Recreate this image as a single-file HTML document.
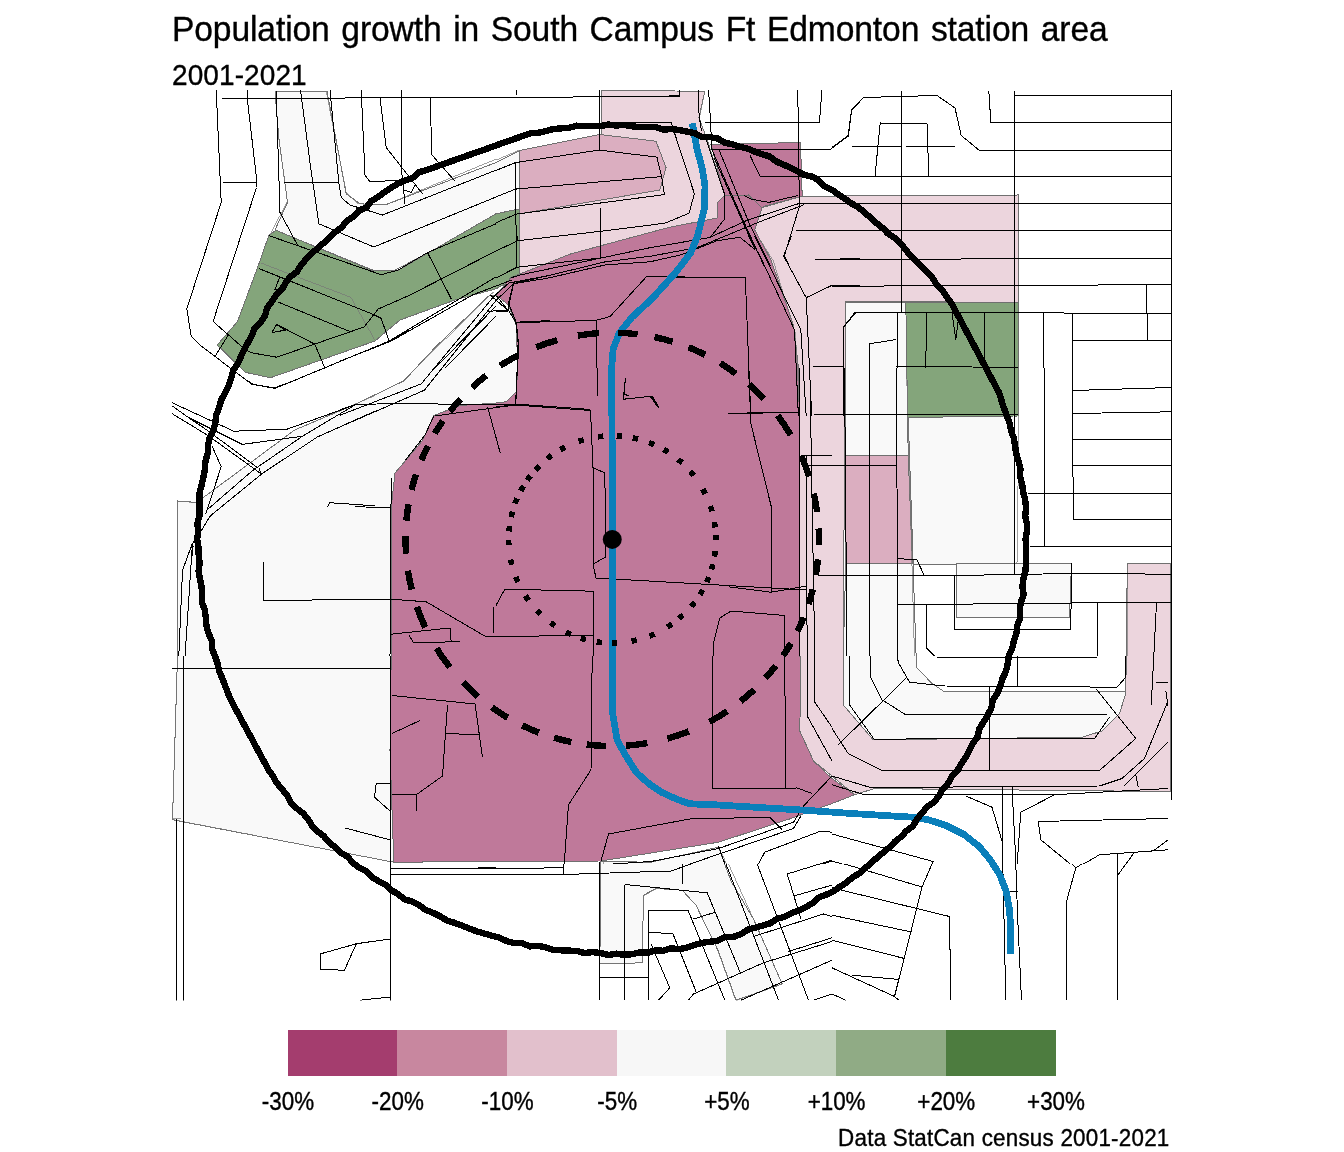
<!DOCTYPE html>
<html><head><meta charset="utf-8"><title>Population growth in South Campus Ft Edmonton station area</title>
<style>
html,body{margin:0;padding:0;background:#fff;}
svg{display:block}
text{font-family:"Liberation Sans",Arial,sans-serif;fill:#000}
</style></head><body>
<svg width="1344" height="1152" viewBox="0 0 1344 1152">
<rect width="1344" height="1152" fill="#fff"/>
<defs><clipPath id="panel"><rect x="172" y="90" width="1000" height="910.5"/></clipPath></defs>
<g clip-path="url(#panel)">

<g shape-rendering="crispEdges" stroke="#707070" stroke-width="1">
<polygon fill="#f9f9f9" points="177.5,501.0 197.0,502.5 204.0,497.0 294.7,430.0 355.6,404.2 404.0,380.8 435.3,347.2 490.0,294.8 520.0,300.0 520.0,420.0 400.0,480.0 395.0,862.0 390.0,861.5 172.5,819.8 177.5,656.0"/>
<polygon fill="#f9f9f9" points="275.0,91.2 327.0,91.2 346.2,193.8 360.0,203.8 385.0,205.0 496.0,162.5 519.8,150.5 519.8,208.8 496.0,213.8 429.0,252.5 395.0,270.0 372.5,270.0 275.0,230.0 287.5,202.5 278.8,137.5"/>
<polygon fill="#ecd5dd" points="601.0,90.5 704.8,91.2 699.0,117.5 708.5,143.8 724.8,195.5 717.2,202.5 717.2,218.0 668.5,227.5 571.0,253.8 519.8,276.2 519.8,212.0 601.0,134.5"/>
<polygon fill="#dbaec0" points="519.8,150.5 599.8,134.5 656.0,141.2 666.0,167.5 659.8,190.0 519.8,213.8"/>
<polygon fill="#84a57b" points="275.8,230.2 371.0,270.0 397.0,270.8 429.0,252.5 496.0,213.8 519.8,208.8 519.8,276.2 496.0,288.8 455.0,300.0 400.0,320.0 375.0,341.0 270.3,377.8 245.3,372.3 217.2,345.0 237.5,321.6 257.8,266.9 268.8,235.6"/>
<polygon fill="#ecd5dd" points="762.2,207.5 802.2,196.2 1018.2,195.0 1018.2,302.5 845.8,301.2 844.5,455.0 843.2,656.0 843.2,704.8 873.2,739.8 1082.0,737.2 1102.0,731.0 1119.5,713.5 1125.8,693.5 1127.3,563.8 1170.6,563.8 1170.6,791.6 874.5,788.5 854.5,794.8 832.0,776.0 813.5,761.0 799.8,731.0 799.8,455.0 793.5,325.0 771.0,260.0 754.8,230.0"/>
<polygon fill="#84a57b" points="905.8,302.5 1018.2,302.5 1018.2,416.0 907.0,417.5"/>
<polygon fill="#f9f9f9" points="908.2,417.5 1014.5,416.0 1014.5,564.0 913.2,564.0"/>
<polygon fill="#f9f9f9" points="846.0,302.5 905.8,302.5 908.2,455.5 845.8,455.5"/>
<polygon fill="#dbaec0" points="845.8,455.5 908.2,455.5 912.5,563.0 845.8,563.0"/>
<polygon fill="#f9f9f9" points="845.8,563.0 913.0,563.0 916.5,667.2 932.0,683.5 943.2,691.0 1125.8,691.0 1125.8,693.5 1119.5,713.5 1102.0,731.0 1082.0,737.2 873.2,739.8 843.2,704.8 843.2,656.0"/>
<polygon fill="#f9f9f9" points="956.5,564.0 1071.5,563.5 1069.5,617.0 956.5,617.0"/>
<polygon fill="#f9f9f9" points="601.0,861.5 651.0,862.2 718.5,847.2 731.0,881.0 753.5,919.0 782.2,984.0 736.0,1000.2 718.5,951.5 696.0,905.2 682.2,890.2 656.0,888.5 643.5,895.2 642.2,962.8 599.8,964.0"/>
<polygon fill="#bf799a" points="496.0,295.0 511.0,277.5 571.0,253.8 668.5,227.5 717.2,218.0 717.2,202.5 724.8,195.5 748.5,193.8 762.2,207.5 754.8,230.0 771.0,260.0 793.5,325.0 798.5,368.0 799.8,455.5 799.8,656.0 801.0,656.0 799.8,731.0 813.5,761.0 832.0,778.5 854.5,794.8 832.0,803.5 791.0,818.5 718.5,842.2 601.0,861.0 496.0,861.5 393.8,862.2 390.0,751.0 391.2,656.0 391.2,508.0 395.0,473.0 422.5,440.5 433.8,415.5 460.0,405.5 496.0,403.0 506.0,401.8 516.0,391.8 518.0,368.0 516.0,325.0 508.5,305.0"/>
<polygon fill="#bf799a" points="711.0,144.5 800.5,142.5 802.2,196.2 764.0,206.3 762.2,208.0 748.5,195.0 724.8,196.0"/>
</g>
<g fill="none" stroke="#777" stroke-width="0.7" shape-rendering="crispEdges">
<polyline points="260.9,263.0 350.8,297.3 375.0,340.3"/>
<polyline points="275.0,91.2 326.2,91.2 346.2,192.5 357.5,203.8 385.0,205.0 496.0,159.2"/>
<polyline points="275.0,91.2 278.8,137.5 287.5,201.2 269.2,236.2"/>
<polyline points="416.2,368.0 492.5,292.5"/>
<polyline points="906.5,368.0 914.5,656.0"/>
<polyline points="1018.2,368.0 1018.2,485.5"/>
<polyline points="1017.5,485.5 1017.5,561.8 1014.5,563.0"/>
<polyline points="1127.5,564.8 1127.5,656.0"/>
<polyline points="204.1,496.9 294.7,430.0 375.0,395.6"/>
<polyline points="355.6,404.2 404.1,380.8 435.3,347.2 490.0,294.8 493.9,292.5"/>
<polyline points="196.2,502.7 177.5,501.1 177.5,560.0"/>
<polyline points="177.5,508.0 177.5,656.0"/>
<polyline points="177.5,656.0 172.5,818.5 180.5,818.5"/>
<polyline points="172.5,819.8 390.0,861.5"/>
<polyline points="603.5,861.5 603.4,864.0"/>
<polyline points="722.2,853.5 727.0,864.0"/>
<polyline points="916.5,656.0 916.5,667.2 932.0,683.5 943.2,691.0 1125.8,691.0"/>
<polyline points="601.0,864.0 599.8,964.0 642.2,962.8 643.5,895.2 656.0,888.5 682.2,890.2 696.0,905.2 718.5,951.5 736.0,1000.2"/>
<polyline points="728.5,864.0 753.5,919.0 782.2,984.0 737.2,1000.2"/>
<polyline points="704.6,92.2 699.1,119.6 702.2,126.6"/>
<polyline points="496.0,160.2 519.4,150.1"/>
<polyline points="757.8,236.0 773.4,261.0 795.3,332.9 800.0,416.0"/>
</g>
<g fill="none" stroke="#000" stroke-width="1" shape-rendering="crispEdges">
<polyline points="222.0,98.2 345.0,98.2 346.2,97.5 496.0,97.5"/>
<polyline points="216.2,90.0 221.2,202.5 186.8,308.8 191.2,336.2 200.0,345.0"/>
<polyline points="200.0,345.0 232.8,370.0 239.1,374.7 251.6,384.1 275.0,388.4 325.0,367.7 389.1,341.1 410.0,330.2"/>
<polyline points="222.5,182.0 257.0,182.0"/>
<polyline points="247.5,90.0 248.0,105.0 257.0,182.5 256.5,187.5 213.2,321.2 222.5,330.0"/>
<polyline points="213.3,321.6 245.3,349.7 251.6,352.8 276.6,357.2 364.1,327.0 378.1,309.1 410.0,295.0"/>
<polyline points="410.0,295.0 496.0,251.0"/>
<polyline points="214.8,356.7 228.9,334.1"/>
<polyline points="276.2,91.2 280.0,212.5 297.5,245.0"/>
<polyline points="300.5,90.0 310.0,162.5 318.8,223.8 373.8,247.0 496.0,197.0"/>
<polyline points="330.0,90.0 338.8,182.5 341.2,197.5 350.0,205.0 382.5,215.0 496.0,170.2"/>
<polyline points="361.2,90.0 365.0,175.0 370.0,182.0 400.0,180.0 412.5,176.2"/>
<polyline points="380.0,97.5 386.2,147.5 422.5,193.8"/>
<polyline points="401.2,90.0 402.0,175.0 405.0,203.8"/>
<polyline points="430.0,97.5 432.0,155.0 455.0,181.2"/>
<polyline points="403.8,190.0 411.2,192.5 415.0,185.0"/>
<polyline points="284.2,183.0 338.0,182.5"/>
<polyline points="268.8,235.6 381.2,274.7 398.4,270.0 427.5,252.5 496.0,223.8"/>
<polyline points="427.5,252.5 451.2,298.8"/>
<polyline points="258.6,268.4 373.4,314.5 381.2,318.4 389.1,341.1"/>
<polyline points="279.7,277.0 275.0,289.5 284.4,288.8"/>
<polyline points="278.1,302.0 348.4,330.9"/>
<polyline points="271.9,332.5 276.6,324.4 285.2,330.2 271.9,332.5"/>
<polyline points="276.6,324.4 314.8,344.2 325.0,368.4"/>
<polyline points="496.0,277.0 388.8,341.2"/>
<polyline points="435.0,368.0 496.0,306.2"/>
<polyline points="445.0,368.0 496.0,316.2"/>
<polyline points="901.5,90.5 901.5,312.5"/>
<polyline points="1014.5,90.5 1014.5,368.0"/>
<polyline points="988.8,90.5 990.8,122.0 1172.0,122.0"/>
<polyline points="1014.5,95.5 1172.0,95.5"/>
<polyline points="832.0,147.5 848.2,135.5 851.5,110.0 863.2,97.5 937.0,95.5 955.0,108.0 961.2,135.5 979.5,150.5 1172.0,150.5"/>
<polyline points="875.0,176.2 880.2,123.0 927.0,123.8 928.8,176.2"/>
<polyline points="852.0,146.2 901.5,146.2"/>
<polyline points="906.2,146.2 954.5,146.2"/>
<polyline points="832.0,176.2 1172.0,176.2"/>
<polyline points="832.0,203.8 1172.0,203.0"/>
<polyline points="832.0,230.5 1172.0,230.5"/>
<polyline points="832.0,259.5 1172.0,258.2"/>
<polyline points="832.0,286.2 1023.2,285.5 1172.0,284.5"/>
<polyline points="855.8,312.5 1058.2,312.5 1072.0,313.8 1172.0,313.8"/>
<polyline points="1146.5,285.0 1147.5,340.0"/>
<polyline points="1072.0,340.0 1172.0,340.0"/>
<polyline points="1072.5,312.5 1072.5,368.0"/>
<polyline points="1043.2,312.5 1043.2,368.0"/>
<polyline points="926.5,312.5 925.8,368.0"/>
<polyline points="984.5,312.5 985.0,368.0"/>
<polyline points="952.0,312.5 955.8,340.0 958.2,320.0"/>
<polyline points="897.0,312.5 897.0,368.0"/>
<polyline points="855.8,312.5 843.2,327.5 844.0,368.0"/>
<polyline points="869.5,368.0 869.5,343.8 896.5,339.5"/>
<polyline points="896.5,366.2 1018.2,367.5"/>
<polyline points="844.5,368.0 847.0,656.0"/>
<polyline points="869.5,368.0 870.0,656.0"/>
<polyline points="896.5,368.0 897.5,603.0 897.5,656.0"/>
<polyline points="1014.5,368.0 1014.5,574.2"/>
<polyline points="1044.0,368.0 1044.5,546.0"/>
<polyline points="1072.5,368.0 1073.2,519.2 1172.0,519.2"/>
<polyline points="832.0,414.2 1018.2,414.2"/>
<polyline points="1072.5,390.5 1172.0,387.5"/>
<polyline points="1072.5,413.5 1172.0,411.8"/>
<polyline points="1072.5,439.8 1172.0,439.8"/>
<polyline points="1072.5,465.5 1172.0,465.0"/>
<polyline points="1028.2,493.5 1172.0,493.0"/>
<polyline points="1029.5,546.2 1172.0,546.2"/>
<polyline points="832.0,465.0 897.0,465.0"/>
<polyline points="832.0,575.5 954.5,575.5 1072.0,573.5 1172.0,574.2"/>
<polyline points="897.5,558.5 917.0,560.0 924.0,575.0"/>
<polyline points="897.5,604.2 954.5,604.2 1070.8,603.0 1172.0,602.2"/>
<polyline points="954.5,575.5 954.5,629.2 1070.8,629.2 1071.5,563.5"/>
<polyline points="926.5,604.2 926.5,648.0 934.5,656.0"/>
<polyline points="1097.5,603.0 1097.5,656.0"/>
<polyline points="1156.5,603.0 1153.8,656.0"/>
<polyline points="597.2,368.0 597.2,395.5"/>
<polyline points="625.5,378.0 623.5,399.2 652.2,396.2 659.0,407.5"/>
<polyline points="496.0,406.8 514.8,405.0 590.5,410.5 593.0,468.0 593.0,564.2 596.0,578.0 806.0,590.0"/>
<polyline points="728.5,586.8 771.0,592.2 806.0,586.2"/>
<polyline points="593.0,467.5 604.8,473.0 606.0,556.8 593.0,564.2"/>
<polyline points="496.0,436.8 499.8,451.8"/>
<polyline points="748.5,368.0 751.0,424.2 771.0,505.5 771.0,591.8"/>
<polyline points="728.5,413.5 798.5,412.5"/>
<polyline points="496.0,605.5 504.8,589.2 593.5,591.2 593.5,656.0"/>
<polyline points="496.0,636.8 593.5,635.0"/>
<polyline points="713.5,656.0 713.5,643.0 719.8,618.0 731.0,611.0 784.8,615.5 784.8,656.0"/>
<polyline points="799.0,368.0 800.0,656.0"/>
<polyline points="806.0,455.5 807.2,656.0"/>
<polyline points="809.8,368.0 814.8,656.0"/>
<polyline points="813.5,414.2 832.0,414.2"/>
<polyline points="801.0,455.5 832.0,455.5"/>
<polyline points="806.0,465.0 832.0,465.0"/>
<polyline points="818.5,575.5 832.0,575.5"/>
<polyline points="246.2,380.0 254.1,384.7 274.4,387.8 296.2,380.0"/>
<polyline points="172.0,402.7 233.8,431.2 286.9,429.2 354.8,405.0 375.0,404.2"/>
<polyline points="340.0,409.7 355.6,404.5 402.5,403.4 449.4,404.2 515.8,404.5 550.0,406.6"/>
<polyline points="172.0,405.8 188.4,417.5 242.3,444.4 302.5,436.2"/>
<polyline points="172.0,413.6 208.0,435.5 261.1,473.8 258.8,467.5"/>
<polyline points="188.4,417.5 208.0,430.8 257.2,467.5"/>
<polyline points="206.4,510.5 252.5,470.6 302.5,436.2 354.8,405.0"/>
<polyline points="340.0,415.2 421.2,383.9 493.9,296.4 508.8,283.1 550.0,275.3"/>
<polyline points="201.7,530.0 210.3,515.9 261.9,473.8 317.3,437.0 375.0,411.2"/>
<polyline points="340.0,426.9 424.4,390.2 496.2,300.3 513.4,283.9 535.3,280.0"/>
<polyline points="211.9,445.6 221.2,466.7 205.6,514.4"/>
<polyline points="327.5,507.3 329.8,502.7 375.0,505.8"/>
<polyline points="355.0,506.8 391.2,507.5"/>
<polyline points="186.1,560.0 193.9,540.9 201.7,530.0"/>
<polyline points="191.6,560.0 193.1,545.6"/>
<polyline points="192.5,543.0 182.5,570.5 178.8,656.0"/>
<polyline points="192.5,543.0 185.0,656.0"/>
<polyline points="340.0,361.2 391.6,340.9 472.8,294.8 511.9,280.0"/>
<polyline points="515.8,404.5 518.1,342.5 515.8,322.2 508.0,309.7 513.4,283.9"/>
<polyline points="490.0,294.8 508.0,310.5 486.9,311.2"/>
<polyline points="516.6,322.2 550.0,320.6"/>
<polyline points="487.7,407.3 500.2,452.7"/>
<polyline points="435.3,415.9 515.0,405.0"/>
<polyline points="405.6,460.0 425.2,434.7 433.8,415.9"/>
<polyline points="263.8,561.8 263.8,600.5 391.2,599.2 426.2,601.8 485.0,636.2 496.0,636.2"/>
<polyline points="391.2,634.2 450.0,628.0 451.2,641.8 413.8,643.0 408.8,635.0"/>
<polyline points="451.2,641.8 460.0,641.2"/>
<polyline points="493.8,606.8 493.8,633.0"/>
<polyline points="391.2,478.0 390.0,656.0"/>
<polyline points="172.0,668.0 391.2,668.0"/>
<polyline points="183.8,656.0 183.8,1006.0"/>
<polyline points="176.2,818.5 176.2,1006.0"/>
<polyline points="390.0,656.0 390.0,1006.0"/>
<polyline points="391.2,868.5 496.0,868.0"/>
<polyline points="391.2,874.8 496.0,874.8"/>
<polyline points="355.0,944.0 390.0,939.0"/>
<polyline points="392.0,695.5 475.0,704.0 482.5,757.2"/>
<polyline points="447.5,704.8 442.5,776.0 416.2,794.8 392.0,794.0"/>
<polyline points="416.2,794.8 416.2,810.5"/>
<polyline points="445.0,733.5 480.0,734.8"/>
<polyline points="392.0,733.5 420.0,720.5"/>
<polyline points="390.0,783.5 376.2,783.5 374.5,797.2 390.0,811.0"/>
<polyline points="345.0,828.0 390.0,839.8"/>
<polyline points="592.2,656.0 591.0,769.8 568.5,804.8 564.2,864.0"/>
<polyline points="713.0,656.0 712.2,789.0 797.2,788.0 812.2,793.5"/>
<polyline points="784.8,656.0 785.5,788.0"/>
<polyline points="601.0,861.0 608.5,834.0 689.8,819.0 769.8,817.2 782.2,829.8"/>
<polyline points="613.0,864.0 651.0,861.5 718.5,848.5 793.5,822.2 803.5,806.0 832.0,776.0"/>
<polyline points="690.0,864.0 793.5,828.5 801.0,816.0"/>
<polyline points="599.8,861.5 599.8,864.0"/>
<polyline points="718.5,846.0 724.9,864.0"/>
<polyline points="764.8,852.2 821.0,831.0 832.0,832.2"/>
<polyline points="764.8,852.2 758.3,864.0"/>
<polyline points="822.2,864.0 832.0,861.0"/>
<polyline points="807.2,656.0 807.2,716.0 832.0,761.0"/>
<polyline points="814.8,656.0 814.8,702.2 832.0,727.2"/>
<polyline points="832.0,728.5 848.2,753.5 883.2,771.0 1099.5,770.5 1135.8,738.5 1095.8,688.5"/>
<polyline points="849.0,656.0 849.5,704.8 874.5,739.8 925.8,738.5 1094.5,738.5 1109.5,717.2"/>
<polyline points="870.8,656.0 870.8,677.2 882.0,699.8 905.8,714.8 1107.0,714.8"/>
<polyline points="897.5,656.0 898.2,662.2 909.5,682.2 944.5,686.0 1117.0,687.2 1125.8,677.2 1125.8,656.0"/>
<polyline points="937.0,657.2 1097.0,657.2"/>
<polyline points="1017.0,656.0 1017.0,687.2"/>
<polyline points="990.0,687.2 989.5,770.5"/>
<polyline points="838.2,744.8 905.8,678.5"/>
<polyline points="832.0,776.0 869.5,787.2 925.8,787.2 1099.5,786.0 1122.0,778.5 1144.5,758.5 1168.0,701.0"/>
<polyline points="832.0,784.8 864.5,794.8 1052.0,794.8 1168.0,788.5"/>
<polyline points="1002.0,787.2 1002.4,864.0"/>
<polyline points="1012.0,787.2 1016.0,864.0"/>
<polyline points="1020.8,812.2 1017.2,864.0"/>
<polyline points="1020.8,812.2 1054.5,794.8"/>
<polyline points="965.8,796.0 992.0,807.2 1002.0,841.0"/>
<polyline points="1038.2,821.5 1168.0,818.5"/>
<polyline points="1038.2,821.5 1040.8,839.8 1070.3,864.0"/>
<polyline points="1083.5,864.0 1099.5,854.8 1168.0,849.8"/>
<polyline points="1117.8,853.5 1117.8,864.0"/>
<polyline points="1126.0,864.0 1134.5,852.2"/>
<polyline points="1153.2,851.0 1168.0,839.8"/>
<polyline points="1135.8,774.8 1138.2,787.2"/>
<polyline points="1153.8,656.0 1151.2,705.2"/>
<polyline points="1155.8,682.2 1168.0,682.2"/>
<polyline points="1165.8,691.0 1168.0,706.0"/>
<polyline points="832.0,834.0 933.2,861.5 932.0,864.0"/>
<polyline points="832.0,861.0 842.1,864.0"/>
<polyline points="390.5,869.0 496.0,867.8"/>
<polyline points="390.5,874.5 496.0,874.5"/>
<polyline points="390.5,939.0 357.5,943.5 320.0,954.0 320.5,969.5 344.5,970.2 356.2,944.0"/>
<polyline points="360.0,1000.2 390.5,997.0"/>
<polyline points="496.0,868.5 563.5,867.8"/>
<polyline points="496.0,874.5 563.5,874.5 671.0,871.0 691.0,864.0"/>
<polyline points="563.5,864.0 563.5,874.5"/>
<polyline points="599.8,864.0 599.8,1000.2"/>
<polyline points="624.8,884.5 624.8,1000.2"/>
<polyline points="648.5,910.2 648.5,1000.2"/>
<polyline points="598.5,977.8 648.5,977.8"/>
<polyline points="624.8,884.5 707.2,892.8 739.8,971.5"/>
<polyline points="648.5,910.2 688.0,910.2 724.8,1000.2"/>
<polyline points="648.5,932.0 673.0,934.0 696.0,991.5"/>
<polyline points="651.0,944.0 669.8,987.8 658.5,1000.2"/>
<polyline points="693.5,919.0 716.0,912.0"/>
<polyline points="682.2,864.0 682.2,883.5"/>
<polyline points="726.0,864.0 778.5,1000.2"/>
<polyline points="757.2,864.0 808.5,1000.2"/>
<polyline points="688.5,1000.2 693.5,994.0 763.5,962.8 832.0,941.5"/>
<polyline points="753.5,936.5 823.5,914.0 832.0,916.5"/>
<polyline points="787.2,874.0 832.0,860.2"/>
<polyline points="787.2,874.0 801.0,919.0"/>
<polyline points="793.5,896.0 832.0,885.2"/>
<polyline points="788.5,951.5 832.0,937.8"/>
<polyline points="741.0,1000.2 832.0,960.2"/>
<polyline points="813.5,1000.2 832.0,994.0"/>
<polyline points="1002.8,864.0 1005.8,1000.2"/>
<polyline points="1015.8,864.0 1017.5,914.0 1021.5,1000.2"/>
<polyline points="1009.0,891.0 1017.5,891.0"/>
<polyline points="1075.8,867.8 1066.5,901.5 1066.5,1000.2"/>
<polyline points="1072.0,864.0 1075.8,867.8 1082.0,864.0"/>
<polyline points="1117.8,864.0 1117.8,1000.2"/>
<polyline points="1117.8,875.2 1125.8,864.0"/>
<polyline points="949.5,916.5 950.8,1000.2"/>
<polyline points="932.0,864.0 922.0,887.0 894.5,996.5 899.0,1000.2"/>
<polyline points="844.5,864.0 922.0,887.0"/>
<polyline points="832.0,887.8 949.5,916.5"/>
<polyline points="832.0,915.2 911.5,932.0"/>
<polyline points="832.0,940.2 904.5,958.5"/>
<polyline points="832.0,967.8 894.5,996.5"/>
<polyline points="852.0,975.2 899.0,979.5"/>
<polyline points="832.0,994.0 845.8,1000.2"/>
<polyline points="1171.3,90.0 1171.3,800.0"/>
<polyline points="516.3,90.4 516.3,94.6"/>
<polyline points="496.0,97.2 572.6,97.2 574.1,96.3 679.6,96.3 679.6,90.4"/>
<polyline points="599.4,90.4 599.4,150.1"/>
<polyline points="698.8,90.4 698.8,106.3"/>
<polyline points="601.5,122.2 671.0,122.2 694.4,193.8 689.0,213.3 664.8,223.2 600.7,231.3 517.9,240.7 496.0,251.0"/>
<polyline points="496.0,170.4 515.5,162.6 599.1,150.1 656.9,157.1 661.6,176.6 515.5,189.1 496.0,196.9"/>
<polyline points="661.6,176.6 664.4,194.6 516.3,214.1 496.0,222.7"/>
<polyline points="515.5,162.6 515.5,189.1 516.6,266.0"/>
<polyline points="600.4,207.9 600.4,257.9"/>
<polyline points="679.7,90.4 679.7,95.7 650.0,96.6"/>
<polyline points="698.4,90.4 698.4,106.3 699.7,119.6 701.6,131.3"/>
<polyline points="708.6,90.4 710.6,121.9 711.7,149.3"/>
<polyline points="705.0,122.2 819.5,122.2 821.9,90.4"/>
<polyline points="797.7,90.4 798.8,149.3 799.2,207.1"/>
<polyline points="711.7,149.3 830.5,149.3 848.4,136.0 851.6,110.2 860.0,101.6"/>
<polyline points="852.3,146.2 860.0,146.2"/>
<polyline points="750.0,155.5 760.2,176.3 860.0,176.3"/>
<polyline points="706.2,139.9 725.0,195.4 724.7,218.8 710.2,237.6"/>
<polyline points="711.7,149.3 743.8,221.9 764.1,266.0"/>
<polyline points="718.8,149.3 750.0,225.1 770.3,266.0"/>
<polyline points="714.1,157.9 754.7,248.5"/>
<polyline points="743.8,195.4 751.6,199.3 768.8,202.4 798.4,195.4"/>
<polyline points="650.0,247.7 709.4,237.6 746.9,220.4 800.0,203.2 860.0,204.0"/>
<polyline points="650.0,256.3 696.9,247.7 759.4,221.9 803.9,204.8"/>
<polyline points="650.0,261.8 681.2,254.8 717.2,240.7 739.8,237.2 754.7,249.3"/>
<polyline points="799.2,207.1 784.4,255.5 789.1,266.0"/>
<polyline points="796.1,230.5 860.0,230.5"/>
<polyline points="814.8,259.4 860.0,259.4"/>
<polyline points="510.8,277.9 519.4,275.1 605.4,257.1 649.9,247.7"/>
<polyline points="513.2,283.7 547.6,275.8 605.4,261.8 649.9,256.3"/>
<polyline points="513.2,283.7 547.6,278.2 605.4,264.9 649.9,261.8"/>
<polyline points="513.2,283.7 508.5,303.2 516.3,322.7 596.0,320.4 610.1,316.5 646.8,276.3 706.0,277.4"/>
<polyline points="516.3,322.7 518.7,345.4 515.5,404.0"/>
<polyline points="596.0,320.4 597.6,395.4"/>
<polyline points="496.0,407.9 515.5,404.0 589.8,409.4 590.5,416.0"/>
<polyline points="625.4,378.2 623.3,399.3 651.5,396.2 658.5,407.1"/>
<polyline points="623.3,393.8 629.6,396.2"/>
<polyline points="496.8,296.2 508.2,310.7"/>
<polyline points="496.0,311.0 508.2,311.0"/>
<polyline points="517.1,236.0 516.3,267.2"/>
<polyline points="600.4,236.0 600.4,257.9"/>
<polyline points="496.0,277.9 517.1,267.2 600.7,257.9"/>
<polyline points="650.0,276.6 696.9,277.4 745.3,277.4 750.8,416.0"/>
<polyline points="748.4,236.0 759.4,254.8 794.5,329.8 798.4,416.0"/>
<polyline points="754.7,236.0 800.8,329.8 806.2,416.0"/>
<polyline points="791.4,236.0 783.6,256.0 806.2,297.7 811.7,416.0"/>
<polyline points="806.2,297.7 831.2,285.7 860.0,285.7"/>
<polyline points="814.8,259.4 860.0,258.7"/>
<polyline points="813.3,366.0 843.0,366.0"/>
<polyline points="843.8,416.0 843.4,327.4 854.7,312.6 860.0,312.6"/>
<polyline points="728.1,413.3 798.4,412.2"/>
<polyline points="650.0,396.2 658.6,407.9"/>
<polyline points="1168.2,741.8 1124.4,785.5"/>
</g>
<polyline fill="none" stroke="#0a7fba" stroke-width="6.8" stroke-linejoin="round" shape-rendering="crispEdges" points="692.3,123.2 696.9,148.5 702.3,168.8 705.0,186.0 704.4,207.9 700.0,226.6 697.6,236.0 690.6,253.0 675.7,272.5 652.2,298.5 632.0,317.2 619.4,332.9 613.2,348.5 611.6,368.8 611.9,416.0 612.2,450.0 612.3,690.0 612.4,711.9 617.1,740.0 625.7,755.6 636.6,772.8 649.1,783.8 661.6,792.3 677.2,799.4 689.8,803.8 714.8,804.8 806.0,810.3 850.0,813.4 914.0,817.3 928.1,819.7 945.3,825.2 964.0,834.5 979.7,847.0 990.6,860.3 1000.0,875.2 1006.2,891.6 1009.4,908.8 1010.6,926.0 1010.6,954.4"/>
<polygon fill="none" stroke="#000" stroke-width="6.4" stroke-linejoin="round" shape-rendering="crispEdges" points="1025.6,539.4 1026.3,547.3 1025.7,555.2 1025.9,563.1 1025.5,570.9 1023.4,578.7 1022.4,586.5 1023.6,594.6 1021.0,602.1 1019.7,609.9 1020.2,618.0 1017.3,625.5 1016.5,633.4 1013.8,640.9 1012.2,648.6 1008.8,655.8 1007.7,663.8 1005.9,671.5 1002.5,678.6 1000.3,686.2 997.3,693.5 992.8,700.2 991.3,708.2 987.6,715.2 983.6,722.0 979.4,728.7 977.6,736.7 972.9,743.1 969.5,750.2 965.8,757.2 961.2,763.7 957.4,770.6 951.8,776.3 948.1,783.4 942.6,789.2 938.8,796.2 933.7,802.3 927.1,807.0 922.0,813.0 916.9,819.0 913.0,826.1 906.5,830.8 901.2,836.7 894.9,841.6 889.5,847.3 883.4,852.3 877.3,857.3 871.6,862.8 865.4,867.7 859.6,873.1 852.8,877.3 846.7,882.3 840.1,886.6 833.6,891.1 826.4,894.6 819.0,897.4 813.0,902.9 806.2,906.9 799.1,910.4 791.6,913.1 784.6,916.8 776.9,918.8 770.2,923.3 762.6,925.6 755.0,927.7 747.4,929.8 740.6,934.3 733.1,937.0 724.9,937.0 717.8,940.8 709.9,941.8 702.0,942.9 694.4,944.9 686.9,947.6 679.2,949.2 671.0,948.3 663.4,950.8 655.4,950.3 647.8,952.7 639.8,952.3 632.0,954.2 624.1,954.8 616.2,953.7 608.3,955.0 600.4,953.0 592.6,952.1 584.6,953.0 576.9,951.0 569.0,950.6 561.1,950.3 553.2,949.8 545.6,947.4 537.9,945.8 529.8,946.4 522.4,943.3 514.3,943.2 506.7,941.1 499.4,937.7 491.8,935.7 484.2,933.5 476.6,931.3 469.2,928.5 461.9,925.6 454.5,922.8 446.9,920.5 440.1,916.3 433.1,912.8 425.7,909.9 419.2,905.2 412.2,901.6 404.5,899.3 398.3,894.2 391.5,890.2 385.7,884.7 378.5,881.2 371.8,877.0 366.3,871.2 359.1,867.7 352.8,862.9 347.7,856.7 340.7,852.8 335.1,847.2 328.9,842.3 323.8,836.2 317.5,831.3 312.0,825.7 307.9,818.7 302.6,812.9 296.2,808.0 290.6,802.4 287.1,795.1 281.9,789.2 276.9,783.1 272.9,776.2 268.4,769.7 264.7,762.8 260.9,755.8 257.2,748.9 253.5,742.0 249.8,735.1 246.0,728.2 242.3,721.3 238.6,714.4 234.8,707.4 231.1,700.5 228.0,693.2 225.2,685.9 222.4,678.5 219.2,671.3 217.5,663.5 215.0,656.0 211.9,648.7 211.8,640.6 208.5,633.3 206.4,625.7 205.9,617.7 204.7,609.9 202.0,602.4 202.3,594.4 201.5,586.5 200.0,578.8 198.6,571.0 199.7,563.0 198.7,555.2 198.5,547.3 197.1,539.4 198.2,531.5 197.3,523.6 199.5,515.8 199.6,507.9 199.4,500.0 199.7,492.1 201.8,484.4 203.5,476.6 205.0,468.9 205.4,461.0 207.8,453.4 207.9,445.4 209.7,437.7 213.4,430.5 215.3,422.8 216.3,414.9 219.1,407.5 221.3,399.9 225.1,392.9 228.5,385.8 231.1,378.3 233.1,370.6 237.6,364.0 240.8,356.8 244.2,349.7 247.9,342.7 251.7,335.8 254.5,328.3 260.3,322.6 264.8,316.1 267.1,308.2 271.7,301.7 276.1,295.1 281.9,289.6 285.7,282.6 290.7,276.4 297.1,271.6 301.3,264.7 306.4,258.7 312.1,253.2 317.9,247.8 323.9,242.7 329.5,237.2 335.5,232.0 341.7,227.1 346.8,221.0 353.4,216.6 358.8,210.7 366.3,207.5 371.3,201.1 378.1,197.0 384.4,192.1 391.0,187.9 397.8,183.7 405.0,180.4 412.6,177.9 418.6,172.4 426.3,170.1 433.8,167.5 441.2,164.8 448.6,162.2 456.0,159.6 463.4,157.0 470.7,154.4 478.1,151.8 485.5,149.2 492.8,146.6 500.2,143.9 507.6,141.3 515.0,138.7 522.5,136.1 530.0,133.4 537.9,132.8 545.6,131.2 553.2,129.0 561.1,128.4 569.0,127.8 576.7,125.7 584.7,125.9 592.6,126.2 600.4,126.2 608.3,124.5 616.2,125.5 624.1,124.9 631.9,126.3 639.8,127.2 647.7,126.9 655.6,127.0 663.2,129.6 671.2,129.1 679.1,130.0 686.8,131.6 694.6,133.1 701.8,136.9 709.8,137.1 717.6,138.5 724.7,142.6 732.3,144.3 739.8,146.7 747.5,148.6 754.8,151.6 762.2,154.3 769.8,156.5 776.2,161.5 783.4,164.6 790.6,167.8 797.6,171.3 804.5,175.0 812.5,176.7 819.2,180.9 825.0,186.6 832.2,189.9 838.5,194.5 845.1,198.9 851.5,203.4 858.3,207.4 864.5,212.3 870.3,217.6 876.1,222.9 882.3,227.7 887.8,233.3 894.4,237.8 900.3,243.0 905.3,249.1 910.2,255.3 915.8,260.8 921.4,266.3 927.0,271.9 932.4,277.6 936.5,284.4 942.2,289.9 946.5,296.5 951.2,302.8 955.0,309.8 958.7,316.8 962.4,323.7 966.0,330.6 969.7,337.5 973.4,344.4 977.1,351.3 980.8,358.2 984.4,365.1 988.1,372.1 991.8,379.0 995.5,386.0 999.3,393.0 1001.5,400.5 1003.9,408.0 1006.7,415.4 1009.5,422.7 1011.0,430.5 1013.7,437.9 1015.0,445.7 1016.2,453.5 1018.6,461.1 1020.4,468.8 1020.1,476.8 1022.2,484.4 1023.2,492.2 1025.2,500.0 1026.1,507.8 1025.2,515.8 1026.9,523.6 1026.9,531.5"/>
<path fill="none" stroke="#000" stroke-width="6.4" shape-rendering="crispEdges" d="M406.40,520.62 A206.70,206.70 0 0 1 408.56,504.26 M411.57,489.87 A206.70,206.70 0 0 1 416.04,474.37 M421.31,460.25 A206.70,206.70 0 0 1 427.89,445.93 M434.79,433.42 A206.70,206.70 0 0 1 442.84,420.98 M450.01,411.32 A206.70,206.70 0 0 1 460.37,399.20 M472.25,387.33 A206.70,206.70 0 0 1 486.23,375.56 M500.25,365.67 A206.70,206.70 0 0 1 517.79,355.54 M536.35,347.14 A206.70,206.70 0 0 1 557.16,340.18 M577.91,335.57 A206.70,206.70 0 0 1 599.14,333.12 M617.91,332.78 A206.70,206.70 0 0 1 637.55,334.25 M654.57,337.08 A206.70,206.70 0 0 1 672.64,341.72 M688.47,347.27 A206.70,206.70 0 0 1 705.32,354.84 M720.21,363.13 A206.70,206.70 0 0 1 735.82,373.70 M748.95,384.35 A206.70,206.70 0 0 1 763.91,398.96 M777.68,415.47 A206.70,206.70 0 0 1 790.60,434.92 M801.31,455.85 A206.70,206.70 0 0 1 809.10,476.36 M813.80,493.56 A206.70,206.70 0 0 1 817.14,512.11 M818.66,528.46 A206.70,206.70 0 0 1 818.87,545.29 M817.98,559.45 A206.70,206.70 0 0 1 815.85,575.06 M812.85,589.22 A206.70,206.70 0 0 1 808.55,604.14 M803.62,617.52 A206.70,206.70 0 0 1 797.40,631.28 M790.95,643.29 A206.70,206.70 0 0 1 783.15,655.67 M775.79,665.81 A206.70,206.70 0 0 1 765.62,677.97 M754.26,689.59 A206.70,206.70 0 0 1 740.65,701.38 M727.23,711.17 A206.70,206.70 0 0 1 709.29,721.90 M688.79,731.41 A206.70,206.70 0 0 1 667.37,738.61 M647.40,743.09 A206.70,206.70 0 0 1 625.98,745.64 M606.09,746.01 A206.70,206.70 0 0 1 586.73,744.52 M571.24,741.99 A206.70,206.70 0 0 1 554.04,737.73 M538.79,732.61 A206.70,206.70 0 0 1 522.34,725.52 M507.69,717.71 A206.70,206.70 0 0 1 491.89,707.44 M477.90,696.48 A206.70,206.70 0 0 1 462.91,682.31 M449.78,667.18 A206.70,206.70 0 0 1 436.61,648.37 M425.17,627.30 A206.70,206.70 0 0 1 416.85,606.80 M411.76,589.68 A206.70,206.70 0 0 1 407.94,570.74 M406.04,553.66 A206.70,206.70 0 0 1 405.58,535.95"/>
<path fill="none" stroke="#000" stroke-width="5.6" shape-rendering="crispEdges" d="M508.82,545.36 A103.60,103.60 0 0 1 508.65,539.94 M508.96,531.45 A103.60,103.60 0 0 1 509.51,526.06 M511.11,516.98 A103.60,103.60 0 0 1 512.42,511.71 M515.08,503.46 A103.60,103.60 0 0 1 517.10,498.42 M520.78,490.76 A103.60,103.60 0 0 1 523.45,486.04 M527.28,480.13 A103.60,103.60 0 0 1 530.50,475.76 M535.50,469.81 A103.60,103.60 0 0 1 539.25,465.89 M547.33,458.66 A103.60,103.60 0 0 1 551.65,455.37 M560.29,449.77 A103.60,103.60 0 0 1 565.06,447.17 M578.69,441.39 A103.60,103.60 0 0 1 583.87,439.76 M598.01,436.78 A103.60,103.60 0 0 1 603.40,436.18 M616.59,435.89 A103.60,103.60 0 0 1 622.00,436.26 M632.73,437.84 A103.60,103.60 0 0 1 638.01,439.05 M649.04,442.55 A103.60,103.60 0 0 1 654.06,444.61 M663.58,449.41 A103.60,103.60 0 0 1 668.22,452.22 M678.01,459.34 A103.60,103.60 0 0 1 682.11,462.90 M690.32,471.30 A103.60,103.60 0 0 1 693.78,475.48 M702.86,489.17 A103.60,103.60 0 0 1 705.37,493.98 M710.38,506.18 A103.60,103.60 0 0 1 711.98,511.37 M714.40,522.12 A103.60,103.60 0 0 1 715.16,527.49 M715.74,534.70 A103.60,103.60 0 0 1 715.85,540.12 M715.18,551.13 A103.60,103.60 0 0 1 714.43,556.50 M712.86,564.11 A103.60,103.60 0 0 1 711.43,569.34 M708.77,577.03 A103.60,103.60 0 0 1 706.67,582.03 M702.68,589.94 A103.60,103.60 0 0 1 699.92,594.61 M694.66,602.18 A103.60,103.60 0 0 1 691.26,606.41 M683.04,615.04 A103.60,103.60 0 0 1 678.98,618.65 M671.97,624.06 A103.60,103.60 0 0 1 667.46,627.07 M654.55,633.97 A103.60,103.60 0 0 1 649.55,636.05 M636.79,640.05 A103.60,103.60 0 0 1 631.49,641.20 M617.31,642.88 A103.60,103.60 0 0 1 611.89,643.00 M602.14,642.51 A103.60,103.60 0 0 1 596.76,641.84 M585.96,639.61 A103.60,103.60 0 0 1 580.75,638.10 M570.77,634.34 A103.60,103.60 0 0 1 565.86,632.03 M554.92,625.69 A103.60,103.60 0 0 1 550.48,622.57 M540.67,614.30 A103.60,103.60 0 0 1 536.85,610.45 M528.44,600.29 A103.60,103.60 0 0 1 525.36,595.82 M517.83,582.03 A103.60,103.60 0 0 1 515.73,577.03 M511.82,564.81 A103.60,103.60 0 0 1 510.62,559.52"/>
<circle cx="612.25" cy="539.40" r="9.5" fill="#000"/>
</g>
<g shape-rendering="crispEdges">
<rect x="287.60" y="1029.75" width="109.90" height="46" fill="#a43d6e"/>
<rect x="397.32" y="1029.75" width="109.90" height="46" fill="#c8879f"/>
<rect x="507.04" y="1029.75" width="109.90" height="46" fill="#e2c0cc"/>
<rect x="616.76" y="1029.75" width="109.90" height="46" fill="#f7f7f7"/>
<rect x="726.48" y="1029.75" width="109.90" height="46" fill="#c2d1bd"/>
<rect x="836.20" y="1029.75" width="109.90" height="46" fill="#90ab85"/>
<rect x="945.92" y="1029.75" width="109.90" height="46" fill="#4d7c3f"/>
</g>
<text transform="translate(288.00,1109.9) scale(1.0,1.11)" font-size="22.4" text-anchor="middle" stroke="#000" stroke-width="0.35">-30%</text>
<text transform="translate(397.71,1109.9) scale(1.0,1.11)" font-size="22.4" text-anchor="middle" stroke="#000" stroke-width="0.35">-20%</text>
<text transform="translate(507.43,1109.9) scale(1.0,1.11)" font-size="22.4" text-anchor="middle" stroke="#000" stroke-width="0.35">-10%</text>
<text transform="translate(617.14,1109.9) scale(1.0,1.11)" font-size="22.4" text-anchor="middle" stroke="#000" stroke-width="0.35">-5%</text>
<text transform="translate(726.86,1109.9) scale(1.0,1.11)" font-size="22.4" text-anchor="middle" stroke="#000" stroke-width="0.35">+5%</text>
<text transform="translate(836.57,1109.9) scale(1.0,1.11)" font-size="22.4" text-anchor="middle" stroke="#000" stroke-width="0.35">+10%</text>
<text transform="translate(946.28,1109.9) scale(1.0,1.11)" font-size="22.4" text-anchor="middle" stroke="#000" stroke-width="0.35">+20%</text>
<text transform="translate(1056.00,1109.9) scale(1.0,1.11)" font-size="22.4" text-anchor="middle" stroke="#000" stroke-width="0.35">+30%</text>
<text transform="translate(172,40.8) scale(1,1.06)" font-size="33.6" letter-spacing="-0.11" word-spacing="2.45" stroke="#000" stroke-width="0.35">Population growth in South Campus Ft Edmonton station area</text>
<text transform="translate(172,84.6) scale(1,1.07)" font-size="28" letter-spacing="0.1" stroke="#000" stroke-width="0.35">2001-2021</text>
<text transform="translate(1169.5,1146) scale(1,1.09)" font-size="22.4" letter-spacing="0.23" text-anchor="end" stroke="#000" stroke-width="0.35">Data StatCan census 2001-2021</text>
</svg></body></html>
